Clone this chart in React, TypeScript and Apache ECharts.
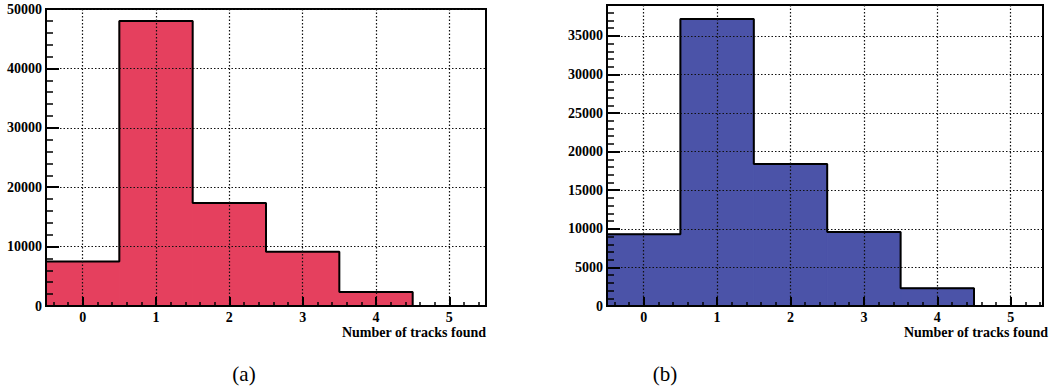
import React, { useEffect, useRef } from "react";
import * as echarts from "echarts";

// Bin centres (number of tracks found)
const BINS = [0, 1, 2, 3, 4, 5];
// Entries per bin, panel (a) and panel (b)
const COUNTS_A = [7500, 48000, 17350, 9150, 2350, 0];
const COUNTS_B = [9300, 37200, 18400, 9600, 2300, 0];
// Axis tick labels
const X_TICKS = [0, 1, 2, 3, 4, 5];
const Y_TICKS_A = [0, 10000, 20000, 30000, 40000, 50000];
const Y_TICKS_B = [0, 5000, 10000, 15000, 20000, 25000, 30000, 35000];
const X_TITLE = "Number of tracks found";
const CAPTIONS = ["(a)", "(b)"];

const FONT = "Liberation Serif";

function minorX(min: number, max: number): number[] {
  const out: number[] = [];
  for (let k = Math.ceil(min / 0.2); k * 0.2 <= max + 1e-9; k++) {
    out.push(Math.round(k * 2) / 10);
  }
  return out;
}

function outline(counts: number[]): number[][] {
  const pts: number[][] = [];
  BINS.forEach((b, i) => {
    pts.push([b - 0.5, counts[i]]);
    pts.push([b + 0.5, counts[i]]);
  });
  return pts;
}

export default function App() {
  const ref = useRef<HTMLDivElement>(null);
  useEffect(() => {
    document.body.style.margin = "0";
    document.body.style.overflow = "hidden";
    const chart = echarts.init(ref.current!, null, { renderer: "svg" });

    const xMaxA = 5.5;
    const xMaxB = 5.44;
    const yMaxA = 50000;
    const yMaxB = 39000;

    const gridLine = { show: true, lineStyle: { color: "#111", type: [1.5, 2], width: 1.2 } };

    const mainX = (grid: number, max: number) => ({
      type: "value",
      gridIndex: grid,
      position: "bottom",
      min: -0.5,
      max,
      z: 10,
      axisLine: { show: true, onZero: false, lineStyle: { color: "#000", width: 2 } },
      axisTick: {
        show: true,
        inside: true,
        length: 9,
        customValues: X_TICKS,
        lineStyle: { color: "#000", width: 2 },
      },
      axisLabel: {
        show: true,
        customValues: X_TICKS,
        margin: 4,
        color: "#000",
        fontFamily: FONT,
        fontWeight: "bold",
        fontSize: 14,
        formatter: (v: number) => String(v),
      },
      splitLine: gridLine,
    });
    const minX = (grid: number, max: number) => ({
      type: "value",
      gridIndex: grid,
      position: "bottom",
      min: -0.5,
      max,
      z: 10,
      axisLine: { show: false, onZero: false },
      axisTick: {
        show: true,
        inside: true,
        length: 4,
        customValues: minorX(-0.5, max),
        lineStyle: { color: "#000", width: 1.5 },
      },
      axisLabel: { show: false },
      splitLine: { show: false },
    });
    const mainY = (grid: number, max: number, ticks: number[]) => ({
      type: "value",
      gridIndex: grid,
      position: "left",
      min: 0,
      max,
      z: 10,
      axisLine: { show: true, onZero: false, lineStyle: { color: "#000", width: 2 } },
      axisTick: {
        show: true,
        inside: true,
        length: 13,
        customValues: ticks,
        lineStyle: { color: "#000", width: 2 },
      },
      axisLabel: {
        show: true,
        customValues: ticks,
        margin: 4,
        color: "#000",
        fontFamily: FONT,
        fontWeight: "bold",
        fontSize: 14,
        formatter: (v: number) => String(v),
      },
      splitLine: gridLine,
    });
    const minY = (grid: number, max: number, step: number) => ({
      type: "value",
      gridIndex: grid,
      position: "left",
      min: 0,
      max,
      interval: step,
      z: 10,
      axisLine: { show: false, onZero: false },
      axisTick: { show: true, inside: true, length: 7, lineStyle: { color: "#000", width: 1.5 } },
      axisLabel: { show: false },
      splitLine: { show: false },
    });

    const fillSeries = (xi: number, yi: number, counts: number[], color: string) => ({
      type: "custom",
      xAxisIndex: xi,
      yAxisIndex: yi,
      clip: true,
      z: 2,
      data: BINS.map((b, i) => [b, counts[i]]),
      renderItem: (_params: any, api: any) => {
        const x = api.value(0);
        const v = api.value(1);
        const p0 = api.coord([x - 0.5, 0]);
        const p1 = api.coord([x + 0.5, v]);
        return {
          type: "rect",
          shape: { x: p0[0], y: p1[1], width: p1[0] - p0[0], height: p0[1] - p1[1] },
          style: { fill: color, stroke: color, lineWidth: 1 },
        };
      },
    });
    const lineSeries = (xi: number, yi: number, counts: number[]) => ({
      type: "line",
      xAxisIndex: xi,
      yAxisIndex: yi,
      z: 5,
      symbol: "none",
      clip: true,
      data: outline(counts),
      lineStyle: { color: "#000", width: 2 },
    });

    const titleFont = `bold 14px "${FONT}", serif`;
    const capFont = `21px "${FONT}", serif`;

    chart.setOption({
      animation: false,
      grid: [
        { left: 46, right: 564, top: 9, bottom: 85, show: true, borderColor: "#000", borderWidth: 2, backgroundColor: "transparent" },
        { left: 607, right: 7, top: 5, bottom: 85, show: true, borderColor: "#000", borderWidth: 2, backgroundColor: "transparent" },
      ],
      xAxis: [mainX(0, xMaxA), minX(0, xMaxA), mainX(1, xMaxB), minX(1, xMaxB)],
      yAxis: [
        mainY(0, yMaxA, Y_TICKS_A),
        minY(0, yMaxA, 2000),
        mainY(1, yMaxB, Y_TICKS_B),
        minY(1, yMaxB, 1000),
      ],
      series: [
        fillSeries(0, 0, COUNTS_A, "#e5405e"),
        lineSeries(0, 0, COUNTS_A),
        fillSeries(2, 2, COUNTS_B, "#4b53a8"),
        lineSeries(2, 2, COUNTS_B),
      ],
      graphic: [
        {
          type: "text",
          x: 486,
          y: 332,
          style: { text: X_TITLE, align: "right", verticalAlign: "middle", fill: "#000", font: titleFont },
        },
        {
          type: "text",
          x: 1048,
          y: 332,
          style: { text: X_TITLE, align: "right", verticalAlign: "middle", fill: "#000", font: titleFont },
        },
        {
          type: "text",
          x: 244,
          y: 374,
          style: { text: CAPTIONS[0], align: "center", verticalAlign: "middle", fill: "#000", font: capFont },
        },
        {
          type: "text",
          x: 665,
          y: 374,
          style: { text: CAPTIONS[1], align: "center", verticalAlign: "middle", fill: "#000", font: capFont },
        },
      ],
    });
    return () => chart.dispose();
  }, []);
  return <div ref={ref} style={{ width: 1050, height: 391 }} />;
}
